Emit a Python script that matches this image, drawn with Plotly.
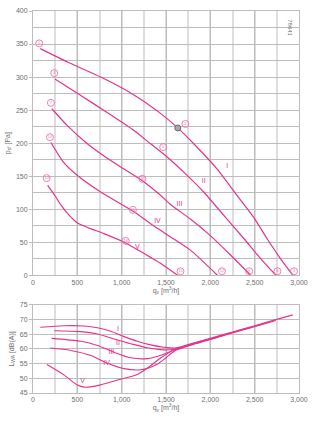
import plotly.graph_objects as go

PINK = "#e5338b"
PINK_LIGHT = "#ef72ab"
GRID = "#bdbdbd"
GRID_MINOR = "#dedede"
TXT = "#6e6e6e"

# ---------------- pressure curves (top) ----------------
q_I = [82, 400, 764, 1139, 1438, 1633, 1813, 2075, 2300, 2487, 2637, 2787, 2930]
p_I = [343, 322, 300, 273, 245, 223, 199, 161, 121, 88, 56, 26, 0]

q_II = [247, 540, 840, 1139, 1326, 1513, 1700, 1925, 2150, 2375, 2562, 2740]
p_II = [297, 272, 246, 219, 199, 179, 156, 126, 91, 56, 26, 0]

q_III = [213, 390, 596, 764, 989, 1233, 1438, 1551, 1775, 2000, 2225, 2455]
p_III = [252, 226, 201, 184, 164, 143, 121, 107, 85, 60, 31, 0]

q_IV = [202, 350, 502, 764, 1139, 1326, 1438, 1551, 1775, 2080]
p_IV = [201, 170, 151, 126, 96, 78, 68, 58, 38, 0]

q_V = [165, 250, 315, 420, 502, 640, 800, 1026, 1200, 1326, 1450, 1630]
p_V = [136, 120, 106, 89, 79, 71, 63, 50, 37, 27, 17, 0]

curve_names = ["I", "II", "III", "IV", "V"]
press_q = [q_I, q_II, q_III, q_IV, q_V]
press_p = [p_I, p_II, p_III, p_IV, p_V]

# circled point labels (number, q, p)
pt_num = ["1", "2", "3", "4", "5", "6", "7", "8", "9", "10", "11", "12", "13", "14", "15"]
pt_q = [70, 1719, 2944, 240, 1468, 2757, 202, 1233, 2438, 191, 1127, 2131, 154, 1045, 1663]
pt_p = [351, 229, 6, 306, 194, 6, 261, 146, 6, 209, 99, 6, 147, 52, 6]

op_q = [1633]
op_p = [223]

rom_q_top = [2191, 1925, 1652, 1404, 1176]
rom_p_top = [165, 142, 108, 82, 42]

# ---------------- sound power curves (bottom) ----------------
lq_I = [82, 352, 577, 727, 876, 1026, 1176, 1326, 1475, 1600, 1750, 2000, 2250, 2500, 2750, 2930]
lw_I = [67.4, 67.9, 67.8, 67.2, 66.0, 64.2, 62.6, 61.4, 60.6, 60.3, 61.5, 63.6, 65.8, 67.9, 70.1, 71.6]

lq_II = [240, 539, 727, 914, 1101, 1289, 1475, 1600, 1750, 2000, 2250, 2500, 2740]
lw_II = [66.2, 65.9, 65.1, 63.4, 61.8, 60.4, 59.7, 60.0, 61.3, 63.4, 65.5, 67.6, 69.7]

lq_III = [210, 539, 727, 914, 1101, 1289, 1475, 1600, 1750, 2000, 2250, 2455]
lw_III = [63.6, 62.6, 61.2, 58.9, 57.0, 56.7, 58.2, 59.8, 61.2, 63.3, 65.5, 67.3]

lq_IV = [195, 427, 652, 839, 1026, 1213, 1401, 1500, 1600, 1750, 2080]
lw_IV = [60.3, 59.5, 57.8, 55.1, 53.3, 52.9, 54.8, 57.0, 59.4, 61.0, 63.9]

lq_V = [157, 352, 502, 577, 727, 952, 1176, 1326, 1438, 1550, 1630]
lw_V = [54.7, 51.1, 47.7, 47.0, 47.5, 49.4, 51.3, 54.3, 56.9, 59.0, 60.2]

sound_q = [lq_I, lq_II, lq_III, lq_IV, lq_V]
sound_l = [lw_I, lw_II, lw_III, lw_IV, lw_V]

rom_q_bot = [959, 959, 884, 831, 558]
rom_l_bot = [66.8, 62.0, 58.9, 55.2, 49.0]

x_ticks = [0, 500, 1000, 1500, 2000, 2500, 3000]
y_ticks_top = [0, 50, 100, 150, 200, 250, 300, 350, 400]
y_ticks_bot = [45, 50, 55, 60, 65, 70, 75]

fig = go.Figure()

for q, p in zip(press_q, press_p):
    fig.add_trace(go.Scatter(x=q, y=p, mode="lines", line=dict(color=PINK, width=1.2, shape="spline", smoothing=0.6),
                             xaxis="x", yaxis="y", hoverinfo="skip", showlegend=False))

fig.add_trace(go.Scatter(x=pt_q, y=pt_p, mode="markers+text", text=pt_num, textposition="middle center",
                         marker=dict(symbol="circle-open", size=7, color=PINK_LIGHT, line=dict(width=0.9, color=PINK_LIGHT)),
                         textfont=dict(color=PINK_LIGHT, size=4, family="Liberation Sans"),
                         xaxis="x", yaxis="y", hoverinfo="skip", showlegend=False))
fig.add_trace(go.Scatter(x=op_q, y=op_p, mode="markers",
                         marker=dict(size=6, color="#a8a8a8", line=dict(color="#6a6a6a", width=1)),
                         xaxis="x", yaxis="y", hoverinfo="skip", showlegend=False))
fig.add_trace(go.Scatter(x=rom_q_top, y=rom_p_top, mode="text", text=curve_names,
                         textfont=dict(color=PINK, size=7, family="Liberation Sans"),
                         xaxis="x", yaxis="y", hoverinfo="skip", showlegend=False))

for q, l in zip(sound_q, sound_l):
    fig.add_trace(go.Scatter(x=q, y=l, mode="lines", line=dict(color=PINK, width=1.1, shape="spline", smoothing=0.8),
                             xaxis="x2", yaxis="y2", hoverinfo="skip", showlegend=False))
fig.add_trace(go.Scatter(x=rom_q_bot, y=rom_l_bot, mode="text", text=curve_names,
                         textfont=dict(color=PINK, size=7, family="Liberation Sans"),
                         xaxis="x2", yaxis="y2", hoverinfo="skip", showlegend=False))

axis_font = dict(family="Liberation Sans", size=7, color=TXT)

def xaxis_def(anchor):
    return dict(
        domain=[0, 1], anchor=anchor, range=[0, 3000], tickvals=x_ticks, tickformat=",",
        showgrid=True, gridcolor=GRID, gridwidth=1, zeroline=False,
        showline=True, linecolor=GRID, mirror=True, ticks="", tickfont=axis_font,
        minor=dict(dtick=250, showgrid=True, gridcolor=GRID_MINOR, gridwidth=2, ticks=""),
        title=dict(text="q<sub>v</sub> [m<sup>3</sup>/h]", font=axis_font, standoff=2),
        fixedrange=True,
    )

fig.update_layout(
    width=318, height=421,
    margin=dict(l=32, r=19, t=7, b=28),
    paper_bgcolor="white", plot_bgcolor="white",
    xaxis=xaxis_def("y"),
    yaxis=dict(domain=[0.3083, 1], anchor="x", range=[0, 400], tickvals=y_ticks_top,
               showgrid=True, gridcolor=GRID, zeroline=False, showline=True, linecolor=GRID, mirror=True,
               ticks="outside", ticklen=3, tickcolor=GRID, tickfont=axis_font,
               minor=dict(dtick=25, showgrid=True, gridcolor=GRID, ticks=""),
               title=dict(text="p<sub>sf</sub> [Pa]", font=axis_font, standoff=4)),
    xaxis2=xaxis_def("y2"),
    yaxis2=dict(domain=[0, 0.2306], anchor="x2", range=[45, 75], tickvals=y_ticks_bot,
                showgrid=True, gridcolor=GRID, zeroline=False, showline=True, linecolor=GRID, mirror=True,
                ticks="outside", ticklen=3, tickcolor=GRID, tickfont=axis_font,
                title=dict(text="L<sub>WA</sub> [dB(A)]", font=axis_font, standoff=4)),
    annotations=[dict(text="78641", x=0.985, y=0.985, xref="paper", yref="paper",
                      xanchor="right", yanchor="top", textangle=90, showarrow=False,
                      font=dict(family="Liberation Sans", size=6, color=TXT))],
)

fig.write_html("out.html")
